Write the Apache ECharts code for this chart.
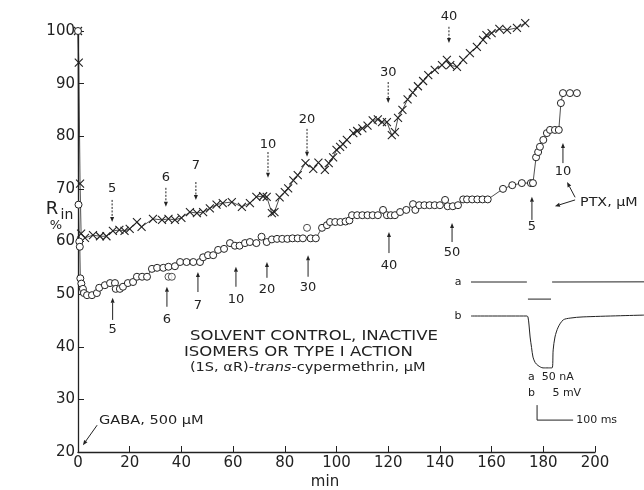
<!DOCTYPE html>
<html><head><meta charset="utf-8">
<script src="https://cdn.jsdelivr.net/npm/echarts@6/dist/echarts.min.js"></script>
<style>html,body{margin:0;padding:0;background:#fff}#c{width:644px;height:490px}</style>
</head><body><div id="c"></div>
<script>
// Input resistance (% of initial) versus time, two preparations
const crossData = [[0,100],[0.3,94],[0.8,71],[1.2,61.5],[2.7,60.7],[5.8,61.2],[8.5,61],[11,61],[13.5,62],[16,62.2],[18,62],[20,62.4],[22.8,63.7],[24.6,62.8],[29,64.3],[32.5,64.1],[35,64.3],[37.5,64.1],[40,64.5],[43.3,65.6],[46,65.4],[48.4,65.6],[51,66.3],[53.6,67],[56,67.3],[59.5,67.5],[63.4,66.6],[66.5,67.3],[69,68.5],[71.6,68.6],[73,68.5],[75,65.4],[76,65.6],[78,68.4],[80,69.4],[81.3,70.1],[83.3,71.6],[85,72.6],[88,74.9],[91,73.8],[93,75],[95.5,73.6],[97,74.9],[98.7,76],[100,77.4],[101.4,78],[102.5,78.5],[104,79.3],[106.5,80.6],[108,81],[110,81.5],[112,82],[114,83],[116,83.2],[117.6,82.7],[119.5,82.7],[121.4,80.2],[122.6,80.8],[123.8,83.5],[125.5,85],[127.5,87],[129.5,88.3],[131.5,89.5],[133.5,90.5],[135.5,91.6],[138,92.6],[140.8,93.5],[142.7,94.5],[144,93.5],[146.6,93.2],[149,94.5],[151.6,95.8],[154.3,97],[156.7,98.3],[158,99.2],[160,99.6],[163,100.4],[166,100.2],[169.8,100.6],[173,101.5]];
const circleData = [[0,100],[0.2,67],[0.5,60],[0.7,59],[0.9,53],[1.3,52],[1.9,51],[2.3,50.2],[3.5,49.8],[5.4,49.8],[7.3,50.2],[8.2,51.2],[10.4,51.7],[12.4,52.1],[14.3,52.1],[14.6,51],[16.2,51],[17.4,51.4],[19.3,52.1],[21.3,52.3],[22.8,53.3],[24.8,53.3],[26.7,53.3],[28.6,54.8],[30.6,55],[33,55],[35,55.2],[37.5,55.3],[39.5,56.1],[42,56.1],[44.6,56.1],[47.2,56.1],[48.4,57],[50.3,57.4],[52.3,57.4],[54.2,58.4],[56.5,58.6],[58.8,59.7],[60.7,59.2],[62.5,59.2],[64.6,59.7],[66.5,59.9],[69,59.7],[71,60.9],[73,59.9],[75,60.4],[77,60.5],[79,60.5],[81,60.5],[83,60.6],[85,60.6],[87,60.6],[90,60.6],[92,60.6],[94.4,62.6],[96.3,63.1],[97.5,63.7],[99.5,63.7],[101.5,63.7],[103.5,63.8],[105,64],[106,65],[108,65],[110,65],[112,65],[114,65],[116,65],[118,66],[119.5,65],[121,65],[122.6,65],[124.6,65.6],[127,66],[129.6,67.1],[130.5,66],[132,66.9],[134,66.9],[136,66.9],[138,66.9],[140,66.9],[142,67.9],[143,66.7],[145,66.7],[147,66.9],[149,68],[150.5,68],[152.5,68],[154.5,68],[156.5,68],[158.5,68],[164.4,70],[168,70.7],[171.7,71.1],[175.2,71.1],[176,71.1],[177.2,76],[178,77],[178.7,78],[180,79.3],[181.4,80.6],[182.6,81.2],[184.5,81.2],[186,81.2],[186.8,86.3],[187.6,88.2],[190.3,88.2],[193,88.2]];
const circleStray = [[35,53.3],[36.3,53.3],[88.6,62.6]];

// Doses of (1S,aR)-trans-cypermethrin (upper trace) and of the lower trace, uM
const upperDoses = ['5','6','7','10','20','30','40'];
const upperDoseTimes = [13.2,34,45.6,73.5,88.6,120,143.5];
const upperArrowSpan = [[70,67.9,63.7],[72.1,70.2,66.6],[74.5,71.3,67.9],[78.5,77,72.1],[83.1,81.4,76.1],[92,90.3,86.3],[102.7,100.8,97.7]];
const lowerDoses = ['5','6','7','10','20','30','40','50'];
const lowerDoseTimes = [13.4,34.4,46.4,61.1,73.1,89,120.3,144.7];
const lowerArrowSpan = [[43.2,45.1,49.3],[45.1,47.6,51.4],[47.9,50.4,54.2],[48.9,51.4,55.2],[50.8,53.1,56.1],[51.2,53.3,57.4],[55.5,57.8,61.8],[57.8,59.9,63.5]];
const ptxDoses = ['5','10'];
const ptxTimes = [175.6,187.6];
const ptxArrowSpan = [[62.8,64.1,68.5],[73.2,74.9,78.7]];

// Inset: a = current (nA), b = membrane voltage (mV), time in ms
const traceA = [[0,0],[155,0],[155,null],[158,-57],[222,-57],[222,null],[225,0],[480,0.5]];
const traceB = [[0,0],[155,0],[158,-0.3],[161,-3],[164,-7],[168,-10.5],[172,-13.7],[178,-15.5],[186,-16.5],[200,-17.3],[225,-17.3],[228,-11.3],[233,-7],[242,-3.7],[256,-1.3],[275,-0.7],[311,-0.3],[480,0.3]];

const FONT = 'DejaVu Sans';
const INK = '#222';
const chart = echarts.init(document.getElementById('c'));

chart.setOption({
  animation: false,
  backgroundColor: '#fff',
  grid: [
    {left: 78, top: 31, right: 49, bottom: 38},
    {left: 471, top: 279, width: 173, height: 30},
    {left: 471, top: 310, width: 173, height: 66}
  ],
  xAxis: [
    {gridIndex: 0, type: 'value', min: 0, max: 200, interval: 20,
     axisLine: {lineStyle: {color: INK, width: 1.3}},
     axisTick: {inside: true, length: 6, lineStyle: {color: INK}},
     axisLabel: {color: INK, fontFamily: FONT, fontSize: 15, margin: 4},
     splitLine: {show: false}},
    {gridIndex: 1, type: 'value', min: 0, max: 480, show: false},
    {gridIndex: 2, type: 'value', min: 0, max: 480, show: false}
  ],
  yAxis: [
    {gridIndex: 0, type: 'value', min: 20, max: 100, interval: 10,
     axisLine: {show: true, lineStyle: {color: INK, width: 1.3}},
     axisTick: {show: true, inside: true, length: 6, lineStyle: {color: INK}},
     axisLabel: {color: INK, fontFamily: FONT, fontSize: 15, margin: 3},
     splitLine: {show: false}},
    {gridIndex: 1, type: 'value', min: -90, max: 10, show: false},
    {gridIndex: 2, type: 'value', min: -20, max: 2, show: false}
  ],
  series: [
    {type: 'line', xAxisIndex: 0, yAxisIndex: 0, data: crossData, clip: false,
     symbol: 'path://M0,0L10,10M10,0L0,10', symbolSize: 8,
     itemStyle: {color: 'none', borderColor: INK, borderWidth: 1.1},
     lineStyle: {color: INK, width: 0.8}},
    {type: 'line', xAxisIndex: 0, yAxisIndex: 0, data: circleData, clip: false,
     symbol: 'circle', symbolSize: 7,
     itemStyle: {color: '#fff', borderColor: INK, borderWidth: 1},
     lineStyle: {color: INK, width: 0.8}},
    {type: 'scatter', xAxisIndex: 0, yAxisIndex: 0, data: circleStray,
     symbol: 'circle', symbolSize: 7,
     itemStyle: {color: '#fff', borderColor: INK, borderWidth: 1}},
    {type: 'line', xAxisIndex: 1, yAxisIndex: 1, data: traceA, showSymbol: false,
     connectNulls: false, lineStyle: {color: INK, width: 1}},
    {type: 'line', xAxisIndex: 2, yAxisIndex: 2, data: traceB, showSymbol: false,
     smooth: 0.3, lineStyle: {color: INK, width: 1}}
  ]
});

// Annotations (dose arrows, labels, inset scale) placed in data coordinates
const px = (g, p) => chart.convertToPixel({gridIndex: g}, p);
const gfx = [];
function text(p, s, opt) {
  opt = opt || {};
  gfx.push({type: 'text', silent: true, x: p[0], y: p[1], scaleX: opt.stretch || 1,
    style: Object.assign({
      text: s, x: 0, y: 0, fill: INK,
      font: (opt.size || 13) + 'px "' + FONT + '"',
      textAlign: opt.align || 'center', textVerticalAlign: 'middle', verticalAlign: 'middle'
    }, opt.extra || {})});
}
function arrow(p0, p1, dashed) {
  const dx = p1[0] - p0[0], dy = p1[1] - p0[1], L = Math.hypot(dx, dy);
  const ux = dx / L, uy = dy / L, hl = 5, hw = 2;
  const bx = p1[0] - ux * hl, by = p1[1] - uy * hl;
  gfx.push({type: 'line', silent: true, shape: {x1: p0[0], y1: p0[1], x2: bx, y2: by},
    style: {stroke: INK, lineWidth: 1, lineDash: dashed ? [2, 1.5] : null}});
  gfx.push({type: 'polygon', silent: true,
    shape: {points: [[p1[0], p1[1]], [bx - uy * hw, by + ux * hw], [bx + uy * hw, by - ux * hw]]},
    style: {fill: INK}});
}
function doseSet(labels, times, spans, dashed) {
  labels.forEach((lab, i) => {
    const t = times[i], s = spans[i];
    text(px(0, [t, s[0]]), lab, {size: 13});
    arrow(px(0, [t, s[1]]), px(0, [t, s[2]]), dashed);
  });
}
doseSet(upperDoses, upperDoseTimes, upperArrowSpan, true);
doseSet(lowerDoses, lowerDoseTimes, lowerArrowSpan, false);
doseSet(ptxDoses, ptxTimes, ptxArrowSpan, false);

text(px(0, [194.2, 67.3]), 'PTX, \u03bcM', {align: 'left', size: 13, stretch: 1.1});
arrow(px(0, [192.3, 68.4]), px(0, [189.2, 71.3]), false);
arrow(px(0, [192.3, 67.9]), px(0, [184.5, 66.7]), false);

text(px(0, [8.1, 25.9]), 'GABA, 500 \u03bcM', {align: 'left', size: 13, stretch: 1.12});
arrow(px(0, [7.4, 25.1]), px(0, [1.9, 21.3]), false);

text(px(0, [43.3, 41.9]), 'SOLVENT CONTROL, INACTIVE', {align: 'left', size: 14, stretch: 1.18});
text(px(0, [41, 38.9]), 'ISOMERS OR TYPE I ACTION', {align: 'left', size: 14, stretch: 1.18});
text(px(0, [43.3, 36.0]), '(1S, \u03b1R)-{i|trans}-cypermethrin, \u03bcM', {align: 'left', size: 13, stretch: 1.12,
  extra: {rich: {i: {fontStyle: 'italic', fontFamily: FONT, fontSize: 13, fill: INK}}}});

// axis titles
text([52, 209], 'R', {size: 18});
text([67, 215], 'in', {size: 14});
text([56, 226], '%', {size: 13});
text([325, 482], 'min', {size: 15});

// inset labels and scale bar
text(px(1, [-36, 0]), 'a', {size: 11});
text(px(2, [-36, 0]), 'b', {size: 11});
text(px(2, [158, -20.3]), 'a  50 nA', {align: 'left', size: 11});
text(px(2, [158, -25.7]), 'b     5 mV', {align: 'left', size: 11});
const c0 = px(2, [183.3, -34.7]), c1 = px(2, [183.3, -29.7]), c2 = px(2, [283.3, -34.7]);
gfx.push({type: 'polyline', silent: true, shape: {points: [c1, c0, c2]}, style: {stroke: INK, lineWidth: 1, fill: null}});
text(px(2, [291.7, -34.7]), '100 ms', {align: 'left', size: 11});

chart.setOption({graphic: gfx});
</script>
</body></html>
